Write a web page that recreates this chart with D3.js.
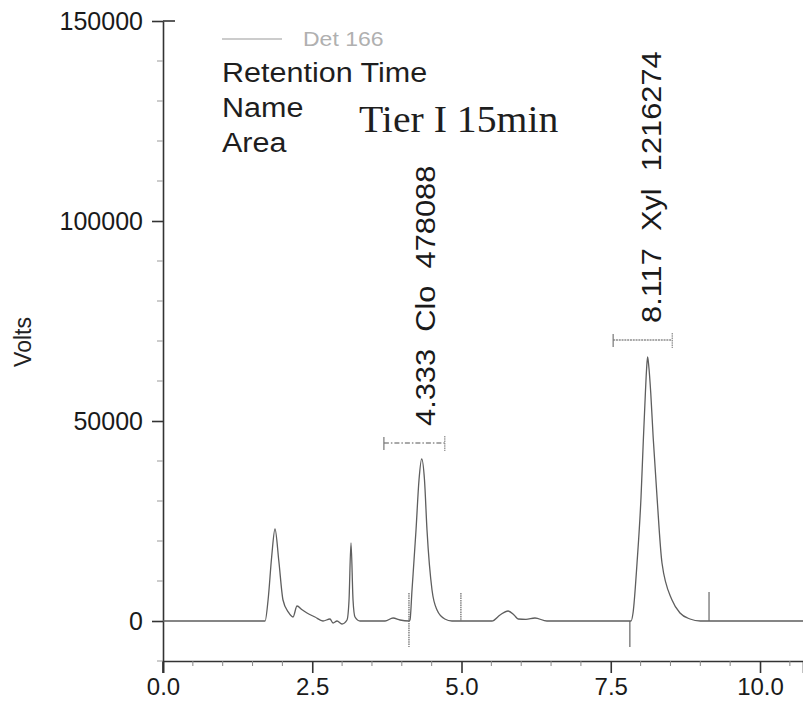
<!DOCTYPE html>
<html>
<head>
<meta charset="utf-8">
<script src="https://cdn.jsdelivr.net/npm/d3@7"></script>
<style>
  html, body { margin: 0; padding: 0; background: #fff; }
  svg { display: block; }
  text { font-family: "Liberation Sans", Arial, sans-serif; }
  text.serif { font-family: "Liberation Serif", "Times New Roman", serif; }
</style>
</head>
<body>
<svg id="chart" width="803" height="713"></svg>
<script>
// Chromatogram trace: retention time (min) and detector signal (Volts)
const timeMin = [
  0.00, 1.70, 1.71, 1.76, 1.82, 1.876, 1.94, 2.01, 2.10, 2.178, 2.245, 2.33, 2.412, 2.546, 2.68,
  2.797, 2.848, 2.915, 2.998, 3.082, 3.116, 3.149, 3.183, 3.216, 3.30,
  3.72, 3.853, 3.97, 4.12, 4.137, 4.171, 4.238, 4.288, 4.333, 4.38, 4.422, 4.506, 4.59, 4.72, 4.84,
  5.48, 5.51, 5.645, 5.78, 5.88, 5.95, 6.08, 6.23, 6.43,
  7.79, 7.84, 7.873, 7.94, 8.007, 8.045, 8.08, 8.10, 8.117, 8.135, 8.17, 8.21, 8.275, 8.358, 8.526, 8.66, 8.827, 9.00,
  10.72
];
const volts = [
  0, 0, 0, 5250, 16000, 23000, 15000, 5250, 2200, 1000, 3750, 2800, 2000, 1000, 0,
  500, -500, 0, -750, 250, 5250, 19500, 5250, 1000, 0,
  0, 750, 250, 0, 250, 7750, 22750, 35250, 40500, 35250, 22750, 7750, 2750, 500, 0,
  0, 0, 1500, 2500, 1500, 500, 400, 750, 0,
  0, 0, 2000, 14500, 31000, 45000, 57000, 63000, 66000, 64000, 57000, 46000, 31000, 14500, 5250, 2000, 500, 0,
  0
];

// Identified peaks
const peakNames = ["Clo", "Xyl"];
const peakTimes = [4.333, 8.117];
const peakAreas = [478088, 1216274];
const bracketStart = [3.70, 7.54];
const bracketEnd = [4.72, 8.53];
const bracketLevel = [44500, 70250];

// Integration event markers
const markerTimes = [4.12, 4.99, 7.82, 9.146];
const markerTop = [7000, 7000, 0, 7250];
const markerBottom = [-6500, 0, -6500, 0];

// Axis ticks
const xTickValues = [0, 2.5, 5, 7.5, 10];
const yTickValues = [0, 50000, 100000, 150000];

// Annotation texts
const detectorName = "Det 166";
const legendRows = ["Retention Time", "Name", "Area"];
const sampleTitle = "Tier I 15min";
const yAxisTitle = "Volts";

const svg = d3.select("#chart");
const margin = { left: 163, right: 0, top: 21, bottom: 52 };
const W = 803, H = 713;

const x = d3.scaleLinear().domain([0, 10.72]).range([margin.left, W - margin.right]);
const y = d3.scaleLinear().domain([-10000, 150000]).range([H - margin.bottom, margin.top]);

const axisColor = "#333";

// ---- X axis ----
const xAxisG = svg.append("g").attr("transform", `translate(0,${y(-10000)})`);
xAxisG.call(d3.axisBottom(x).tickValues(xTickValues).tickFormat(d3.format(".1f"))
  .tickSize(12).tickPadding(5))
  .call(g => g.select(".domain").attr("stroke", axisColor).attr("stroke-width", 1.6))
  .call(g => g.selectAll(".tick line").attr("stroke", axisColor).attr("stroke-width", 1.6))
  .call(g => g.selectAll(".tick text").attr("fill", "#1a1a1a").attr("font-size", 24));
// minor ticks every 0.5 min
xAxisG.selectAll("line.minor")
  .data(d3.range(0.5, 10.72, 0.5).filter(v => Math.abs(v / 2.5 - Math.round(v / 2.5)) > 1e-6))
  .join("line").attr("class", "minor")
  .attr("x1", d => x(d)).attr("x2", d => x(d))
  .attr("y1", 0).attr("y2", 5)
  .attr("stroke", "#888").attr("stroke-width", 1);

// ---- Y axis ----
const yAxisG = svg.append("g").attr("transform", `translate(${x(0)},0)`);
yAxisG.call(d3.axisLeft(y).tickValues(yTickValues).tickFormat(d3.format("d"))
  .tickSize(11).tickPadding(9).tickSizeOuter(0))
  .call(g => g.select(".domain").attr("stroke", axisColor).attr("stroke-width", 1.6))
  .call(g => g.selectAll(".tick line").attr("stroke", axisColor).attr("stroke-width", 1.6))
  .call(g => g.selectAll(".tick text").attr("fill", "#1a1a1a").attr("font-size", 25));
// top cap of the value axis
yAxisG.append("line")
  .attr("x1", 0).attr("x2", 12).attr("y1", y(150000)).attr("y2", y(150000))
  .attr("stroke", axisColor).attr("stroke-width", 1.6);
// extend the value axis down to the time axis tick length
yAxisG.append("line")
  .attr("x1", 0).attr("x2", 0).attr("y1", y(-10000)).attr("y2", y(-10000) + 12)
  .attr("stroke", axisColor).attr("stroke-width", 1.6);
// minor ticks every 10000
yAxisG.selectAll("line.minor")
  .data(d3.range(-10000, 150001, 10000).filter(v => v % 50000 !== 0))
  .join("line").attr("class", "minor")
  .attr("x1", -6).attr("x2", 0)
  .attr("y1", d => y(d)).attr("y2", d => y(d))
  .attr("stroke", "#999").attr("stroke-width", 1);

svg.append("text")
  .attr("transform", `translate(31,342) rotate(-90)`)
  .attr("text-anchor", "middle")
  .attr("font-size", 23).attr("fill", "#222")
  .text(yAxisTitle);

// ---- Trace ----
const trace = timeMin.map((t, i) => [t, volts[i]]);
svg.append("path")
  .datum(trace)
  .attr("fill", "none")
  .attr("stroke", "#5e5e5e")
  .attr("stroke-width", 1.3)
  .attr("stroke-linejoin", "round")
  .attr("d", d3.line().x(d => x(d[0])).y(d => y(d[1])).curve(d3.curveMonotoneX));

// ---- Event markers ----
svg.selectAll("line.marker")
  .data(markerTimes)
  .join("line").attr("class", "marker")
  .attr("x1", d => x(d)).attr("x2", d => x(d))
  .attr("y1", (d, i) => y(markerTop[i])).attr("y2", (d, i) => y(markerBottom[i]))
  .attr("stroke", "#666").attr("stroke-width", 1.2)
  .attr("stroke-dasharray", (d, i) => i < 2 ? "1.5,0.8" : null);

// ---- Peak brackets and labels ----
const peaks = peakNames.map((n, i) => ({
  name: n, rt: peakTimes[i], area: peakAreas[i],
  t0: bracketStart[i], t1: bracketEnd[i], level: bracketLevel[i]
}));

const pg = svg.selectAll("g.peak").data(peaks).join("g").attr("class", "peak");
pg.append("line")
  .attr("x1", d => x(d.t0)).attr("x2", d => x(d.t1))
  .attr("y1", d => y(d.level)).attr("y2", d => y(d.level))
  .attr("stroke", "#555").attr("stroke-width", 1.2)
  .attr("stroke-dasharray", (d, i) => i === 0 ? "5,2,1.5,2" : "2,0.8");
pg.append("line")
  .attr("x1", d => x(d.t0)).attr("x2", d => x(d.t0))
  .attr("y1", d => y(d.level) - 6).attr("y2", d => y(d.level) + 7)
  .attr("stroke", "#777").attr("stroke-width", 1.2);
pg.append("line")
  .attr("x1", d => x(d.t1)).attr("x2", d => x(d.t1))
  .attr("y1", d => y(d.level) - 7).attr("y2", d => y(d.level) + 8)
  .attr("stroke", "#888").attr("stroke-width", 1.2).attr("stroke-dasharray", "1.5,0.8");
pg.append("text")
  .attr("class", "stretch")
  .attr("data-k", 1.1)
  .attr("transform", d => `translate(${x(d.rt) + 13},${y(d.level) - 17}) rotate(-90)`)
  .attr("font-size", 28).attr("fill", "#1a1a1a")
  .style("white-space", "pre")
  .text(d => `${d.rt.toFixed(3)}  ${d.name}  ${d.area}`);

// ---- Legend block ----
svg.append("line")
  .attr("x1", 222).attr("x2", 282).attr("y1", 39).attr("y2", 39)
  .attr("stroke", "#9a9a9a").attr("stroke-width", 1.2);
svg.append("text")
  .attr("class", "stretch").attr("data-k", 1.15)
  .attr("x", 303).attr("y", 46)
  .attr("font-size", 20).attr("fill", "#b0b0b0")
  .text(detectorName);
svg.selectAll("text.row")
  .data(legendRows)
  .join("text").attr("class", "row stretch").attr("data-k", 1.13)
  .attr("x", 222).attr("y", (d, i) => 82 + i * 35)
  .attr("font-size", 27).attr("fill", "#1e1e1e")
  .text(d => d);
svg.append("text")
  .attr("class", "serif stretch").attr("data-k", 1.045)
  .attr("x", 359).attr("y", 132)
  .attr("font-size", 38)
  .attr("fill", "#1e1e1e")
  .text(sampleTitle);

// widen labels slightly to the printed proportions
svg.selectAll("text.stretch").each(function () {
  const k = +this.getAttribute("data-k");
  const len = this.getComputedTextLength();
  this.setAttribute("textLength", len * k);
  this.setAttribute("lengthAdjust", "spacingAndGlyphs");
});
</script>
</body>
</html>
